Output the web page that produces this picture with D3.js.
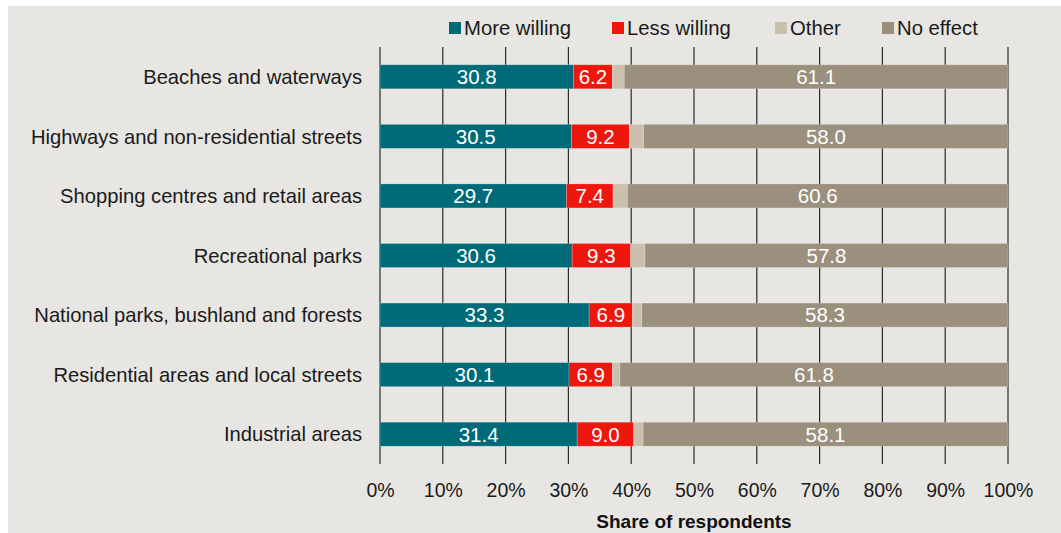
<!DOCTYPE html>
<html><head><meta charset="utf-8">
<script src="https://cdn.jsdelivr.net/npm/d3@7"></script>
<style>
html,body{margin:0;padding:0;background:#fff;}
svg{display:block;}
</style></head>
<body>
<svg id="chart" width="1061" height="533"></svg>
<script>
const categories = [
  "Beaches and waterways",
  "Highways and non-residential streets",
  "Shopping centres and retail areas",
  "Recreational parks",
  "National parks, bushland and forests",
  "Residential areas and local streets",
  "Industrial areas"
];
const seriesNames = ["More willing", "Less willing", "Other", "No effect"];
const moreWilling = [30.8, 30.5, 29.7, 30.6, 33.3, 30.1, 31.4];
const lessWilling = [6.2, 9.2, 7.4, 9.3, 6.9, 6.9, 9.0];
const other       = [1.9, 2.3, 2.3, 2.3, 1.5, 1.2, 1.5];
const noEffect    = [61.1, 58.0, 60.6, 57.8, 58.3, 61.8, 58.1];
const showLabel   = [true, true, false, true];
const tickValues  = [0, 10, 20, 30, 40, 50, 60, 70, 80, 90, 100];
const colors = ["#006b78", "#ee160d", "#c9c1ae", "#9b8f7d"];

const svg = d3.select("#chart");
const font = "'Liberation Sans', Arial, sans-serif";

svg.append("rect").attr("x", 8).attr("y", 6).attr("width", 1053).attr("height", 527).attr("fill", "#e8e6e2");

const x = d3.scaleLinear().domain([0, 100]).range([380, 1008]);
const y = d3.scaleBand().domain(categories).range([47, 464]).paddingInner(0.597).paddingOuter(0.2985);
const color = d3.scaleOrdinal().domain(seriesNames).range(colors);

const rows = categories.map((c, i) => ({cat: c, vals: [moreWilling[i], lessWilling[i], other[i], noEffect[i]]}));
const stack = d3.stack().keys([0,1,2,3]).value((d, k) => d.vals[k]);
const stacked = stack(rows);

// gridlines
svg.append("g").selectAll("line").data(tickValues).join("line")
  .attr("x1", d => x(d)).attr("x2", d => x(d))
  .attr("y1", 47).attr("y2", 464)
  .attr("stroke", "#2a2a2a").attr("stroke-width", 1.2);

// bars
const layers = svg.append("g").selectAll("g").data(stacked).join("g")
  .attr("fill", (d, i) => colors[i]);
layers.selectAll("rect").data(d => d).join("rect")
  .attr("x", d => x(d[0]))
  .attr("width", d => x(d[1]) - x(d[0]))
  .attr("y", d => y(d.data.cat))
  .attr("height", y.bandwidth())
  .attr("stroke", "rgba(255,255,255,0.25)").attr("stroke-width", 0.8);

// value labels
stacked.forEach((layer, i) => {
  if (!showLabel[i]) return;
  svg.append("g").selectAll("text").data(layer).join("text")
    .attr("x", d => (x(d[0]) + x(d[1])) / 2)
    .attr("y", d => y(d.data.cat) + y.bandwidth() / 2)
    .attr("dy", "0.36em")
    .attr("text-anchor", "middle")
    .attr("fill", "#fff")
    .style("font-family", font).style("font-size", "20.5px")
    .text(d => (d[1] - d[0]).toFixed(1));
});

// category labels
svg.append("g").selectAll("text").data(categories).join("text")
  .attr("x", 362)
  .attr("y", d => y(d) + y.bandwidth() / 2)
  .attr("dy", "0.36em")
  .attr("text-anchor", "end")
  .attr("fill", "#1a1a1a")
  .style("font-family", font).style("font-size", "20.2px")
  .text(d => d);

// x axis tick labels
const axis = d3.axisBottom(x).tickValues(tickValues).tickFormat(d => d + "%").tickSize(0).tickPadding(0);
const ax = svg.append("g").attr("transform", "translate(0,483)").call(axis);
ax.select(".domain").remove();
ax.selectAll("text").attr("fill", "#1a1a1a").style("font-family", font).style("font-size", "19.5px");

svg.append("text").attr("x", x(50)).attr("y", 528)
  .attr("text-anchor", "middle").attr("fill", "#111")
  .style("font-family", font).style("font-size", "19px").style("font-weight", "bold")
  .text("Share of respondents");

// legend
const legendX = [449, 612, 775, 882];
const lg = svg.append("g").selectAll("g").data(seriesNames).join("g")
  .attr("transform", (d, i) => `translate(${legendX[i]},20)`);
lg.append("rect").attr("width", 12).attr("height", 12).attr("y", 2).attr("fill", d => color(d));
lg.append("text").attr("x", 15).attr("y", 8).attr("dy", "0.36em")
  .attr("fill", "#1a1a1a").style("font-family", font).style("font-size", "20.3px")
  .text(d => d);
</script>
</body></html>
